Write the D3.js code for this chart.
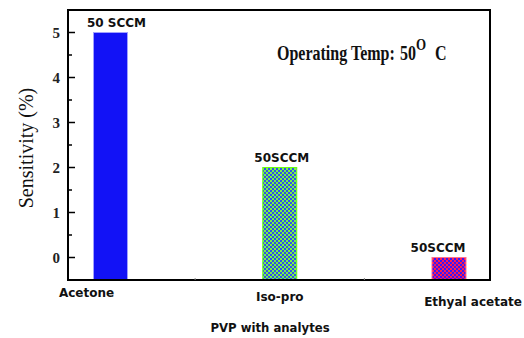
<!DOCTYPE html>
<html>
<head>
<meta charset="utf-8">
<script src="https://cdn.jsdelivr.net/npm/d3@7"></script>
<style>
  html, body { margin: 0; padding: 0; background: #fff; }
  svg { display: block; }
</style>
</head>
<body>
<svg id="chart" width="524" height="338"></svg>
<script>
// Sensitivity of PVP sensor towards analytes at 50 SCCM
const categories = ["Acetone", "Iso-pro", "Ethyal acetate"];
const sensitivity = [5, 2, 0];
const flowLabels = ["50 SCCM", "50SCCM", "50SCCM"];
const yTicks = [0, 1, 2, 3, 4, 5];
const yMinorTicks = [0.5, 1.5, 2.5, 3.5, 4.5];

const svg = d3.select("#chart");
const plotLeft = 68, plotRight = 490, plotTop = 10, plotBottom = 280;

const x = d3.scalePoint().domain(categories).range([110.5, 449]);
const y = d3.scaleLinear().domain([-0.5, 5.5]).range([plotBottom, plotTop]);
const barW = 35;

// bar fills: solid blue, and two checkered patterns
const defs = svg.append("defs");
function checker(id, bg, fg) {
  const p = defs.append("pattern").attr("id", id)
    .attr("patternUnits", "userSpaceOnUse").attr("width", 4).attr("height", 4);
  p.append("rect").attr("width", 4).attr("height", 4).attr("fill", bg);
  p.append("rect").attr("x", 0).attr("y", 0).attr("width", 2).attr("height", 2).attr("fill", fg);
  p.append("rect").attr("x", 2).attr("y", 2).attr("width", 2).attr("height", 2).attr("fill", fg);
}
checker("pat-green", "#78f444", "#3050ec");
checker("pat-red", "#ff1e52", "#3a18f6");

const fills = ["#1212f6", "url(#pat-green)", "url(#pat-red)"];
const strokes = ["#a0a0ff", "#6cff10", "#ff7090"];

svg.append("g").selectAll("rect")
  .data(categories)
  .join("rect")
  .attr("x", d => x(d) - barW / 2 + 0.5)
  .attr("y", (d, i) => y(sensitivity[i]))
  .attr("width", barW - 1)
  .attr("height", (d, i) => y(-0.5) - y(sensitivity[i]))
  .attr("fill", (d, i) => fills[i])
  .attr("stroke", (d, i) => strokes[i])
  .attr("stroke-width", 1);

// frame
svg.append("rect")
  .attr("x", plotLeft).attr("y", plotTop)
  .attr("width", plotRight - plotLeft).attr("height", plotBottom - plotTop)
  .attr("fill", "none").attr("stroke", "#000").attr("stroke-width", 2);

// y axis: inward ticks, labels on the left
const yAxis = svg.append("g").attr("transform", `translate(${plotLeft},0)`);
yAxis.selectAll("line.major").data(yTicks).join("line")
  .attr("class", "major")
  .attr("x1", 0).attr("x2", 7)
  .attr("y1", d => y(d)).attr("y2", d => y(d))
  .attr("stroke", "#000").attr("stroke-width", 1.5);
yAxis.selectAll("line.minor").data(yMinorTicks).join("line")
  .attr("class", "minor")
  .attr("x1", 0).attr("x2", 4)
  .attr("y1", d => y(d)).attr("y2", d => y(d))
  .attr("stroke", "#000").attr("stroke-width", 1.5);
yAxis.selectAll("text").data(yTicks).join("text")
  .attr("x", -8).attr("y", d => y(d) + 5)
  .attr("text-anchor", "end")
  .attr("font-family", "'Liberation Serif', 'Times New Roman', serif")
  .attr("font-weight", "bold").attr("font-size", 15)
  .attr("fill", "#222")
  .text(d => d);

// x axis: small ticks between categories
const mids = d3.pairs(categories).map(([a, b]) => (x(a) + x(b)) / 2);
svg.append("g").selectAll("line").data(mids).join("line")
  .attr("x1", d => d).attr("x2", d => d)
  .attr("y1", plotBottom).attr("y2", plotBottom - 2)
  .attr("stroke", "#888").attr("stroke-width", 1);

const sansBold = "'DejaVu Sans', Verdana, sans-serif";

// category labels
const catShift = [-24, 0, 24];
const catDrop = [17, 21, 26];
svg.append("g").selectAll("text").data(categories).join("text")
  .attr("x", (d, i) => x(d) + catShift[i])
  .attr("y", (d, i) => plotBottom + catDrop[i])
  .attr("text-anchor", "middle")
  .attr("font-family", sansBold).attr("font-weight", "bold").attr("font-size", 12)
  .attr("fill", "#111")
  .text(d => d);

// flow-rate labels above bars
const flowShift = [6, 2, -11];
svg.append("g").selectAll("text").data(categories).join("text")
  .attr("x", (d, i) => x(d) + flowShift[i])
  .attr("y", (d, i) => y(sensitivity[i]) - 6)
  .attr("text-anchor", "middle")
  .attr("font-family", sansBold).attr("font-weight", "bold").attr("font-size", 12)
  .attr("fill", "#111")
  .text((d, i) => flowLabels[i]);

// axis titles
svg.append("text")
  .attr("x", 270).attr("y", 332)
  .attr("text-anchor", "middle")
  .attr("font-family", sansBold).attr("font-weight", "bold").attr("font-size", 11.7)
  .attr("fill", "#111")
  .text("PVP with analytes");

svg.append("text")
  .attr("transform", "translate(33,148) rotate(-90)")
  .attr("text-anchor", "middle")
  .attr("font-family", "'Liberation Serif', 'Times New Roman', serif")
  .attr("font-size", 20)
  .attr("fill", "#111")
  .text("Sensitivity (%)");

// operating condition note (slightly tall lettering)
const note = svg.append("text")
  .attr("transform", "translate(277,60) scale(1,1.25)")
  .attr("font-family", "'Liberation Serif', 'Times New Roman', serif")
  .attr("font-weight", "bold").attr("font-size", 16)
  .attr("fill", "#111");
note.append("tspan").text("Operating Temp:");
note.append("tspan").attr("x", 123).text("50");
note.append("tspan").attr("dy", -8).attr("font-size", 13).text("O");
note.append("tspan").attr("dy", 8).attr("dx", 9).text("C");
</script>
</body>
</html>
